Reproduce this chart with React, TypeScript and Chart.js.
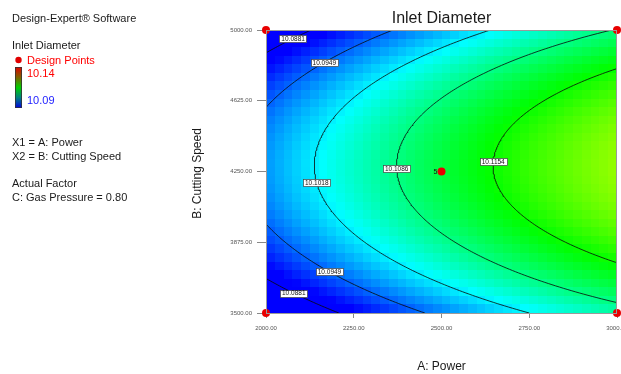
import React, { useEffect, useRef } from 'react';
import { Chart, registerables } from 'chart.js';

Chart.register(...registerables);

// ---- data ----
const powerRange = [2000, 3000];
const speedRange = [3500, 5000];
const powerTicks = [2000, 2250, 2500, 2750, 3000];
const speedTicks = [3500, 3875, 4250, 4625, 5000];
// fitted quadratic model in coded units: [intercept, A, B, AB, A^2, B^2]
const modelCoefficients = [10.1119, 0.01245, 0.0012, 0, -0.0021, -0.0146];
const contourLevels = [10.0881, 10.0949, 10.1018, 10.1086, 10.1154];
const contourLabelSpeeds = [[4955, 3605], [4828, 3718], [4190], [4265], [4302]];
const designPower = [2000, 3000, 2000, 3000, 2500];
const designSpeed = [5000, 5000, 3500, 3500, 4250];
const designCounts = [1, 1, 1, 1, 5];
const colorScaleRange = [10.09, 10.14];

const FONT = "'Liberation Sans', Arial, sans-serif";
const GRID_X = 40;
const GRID_Y = 33;

const codeA = (p: number) => (p - (powerRange[0] + powerRange[1]) / 2) / ((powerRange[1] - powerRange[0]) / 2);
const codeB = (s: number) => (s - (speedRange[0] + speedRange[1]) / 2) / ((speedRange[1] - speedRange[0]) / 2);
const uncodeA = (a: number) => (powerRange[0] + powerRange[1]) / 2 + a * (powerRange[1] - powerRange[0]) / 2;

function response(p: number, s: number) {
  const a = codeA(p), b = codeB(s);
  const c = modelCoefficients;
  return c[0] + c[1] * a + c[2] * b + c[3] * a * b + c[4] * a * a + c[5] * b * b;
}

// solve for power on a contour level at a given speed
function contourPower(level: number, s: number): number | null {
  const b = codeB(s);
  const c = modelCoefficients;
  const A = c[4];
  const B = c[1] + c[3] * b;
  const C = c[0] + c[2] * b + c[5] * b * b - level;
  const D = B * B - 4 * A * C;
  if (D < 0) return null;
  const a = (-B + Math.sqrt(D)) / (2 * A);
  return uncodeA(a);
}

const stops: [number, number[]][] = [
  [0, [0, 0, 255]],
  [0.25, [0, 255, 255]],
  [0.5, [0, 255, 0]],
  [0.75, [255, 255, 0]],
  [1, [255, 0, 0]],
];
function colorFor(v: number) {
  let t = (v - colorScaleRange[0]) / (colorScaleRange[1] - colorScaleRange[0]);
  t = Math.max(0, Math.min(1, t));
  for (let i = 0; i < stops.length - 1; i++) {
    const [t0, c0] = stops[i];
    const [t1, c1] = stops[i + 1];
    if (t <= t1) {
      const f = (t - t0) / (t1 - t0);
      const r = Math.round(c0[0] + (c1[0] - c0[0]) * f);
      const g = Math.round(c0[1] + (c1[1] - c0[1]) * f);
      const bl = Math.round(c0[2] + (c1[2] - c0[2]) * f);
      return `rgb(${r},${g},${bl})`;
    }
  }
  return 'rgb(255,0,0)';
}

const heatmapPlugin = {
  id: 'heatmap',
  beforeDatasetsDraw(chart: any) {
    const { ctx, scales } = chart;
    const xs = scales.x, ys = scales.y;
    ctx.save();
    for (let i = 0; i < GRID_X; i++) {
      for (let j = 0; j < GRID_Y; j++) {
        const p0 = powerRange[0] + ((powerRange[1] - powerRange[0]) * i) / GRID_X;
        const p1 = powerRange[0] + ((powerRange[1] - powerRange[0]) * (i + 1)) / GRID_X;
        const s0 = speedRange[0] + ((speedRange[1] - speedRange[0]) * j) / GRID_Y;
        const s1 = speedRange[0] + ((speedRange[1] - speedRange[0]) * (j + 1)) / GRID_Y;
        ctx.fillStyle = colorFor(response((p0 + p1) / 2, (s0 + s1) / 2));
        const x0 = Math.round(xs.getPixelForValue(p0));
        const x1 = Math.round(xs.getPixelForValue(p1));
        const y0 = Math.round(ys.getPixelForValue(s1));
        const y1 = Math.round(ys.getPixelForValue(s0));
        ctx.fillRect(x0, y0, x1 - x0, y1 - y0);
      }
    }
    ctx.restore();
  },
};

const overlayPlugin = {
  id: 'overlay',
  afterDatasetsDraw(chart: any) {
    const { ctx, scales, chartArea } = chart;
    const xs = scales.x, ys = scales.y;
    ctx.save();
    // frame
    ctx.strokeStyle = '#9a9a9a';
    ctx.lineWidth = 1;
    ctx.strokeRect(chartArea.left + 0.5, chartArea.top + 0.5, chartArea.right - chartArea.left - 1, chartArea.bottom - chartArea.top);
    // contour labels
    ctx.font = `6.5px ${FONT}`;
    ctx.textAlign = 'center';
    ctx.textBaseline = 'middle';
    contourLevels.forEach((lvl, k) => {
      contourLabelSpeeds[k].forEach((s) => {
        const p = contourPower(lvl, s);
        if (p == null) return;
        const x = xs.getPixelForValue(p);
        const y = ys.getPixelForValue(s);
        const txt = lvl.toFixed(4);
        const w = ctx.measureText(txt).width + 4;
        const h = 7;
        ctx.fillStyle = '#ffffff';
        ctx.fillRect(Math.round(x - w / 2) + 0.5, Math.round(y - h / 2) + 0.5, Math.round(w), h);
        ctx.strokeStyle = '#444';
        ctx.lineWidth = 0.7;
        ctx.strokeRect(Math.round(x - w / 2) + 0.5, Math.round(y - h / 2) + 0.5, Math.round(w), h);
        ctx.fillStyle = '#111';
        ctx.fillText(txt, x, y + 0.5);
      });
    });
    // replicate count labels
    ctx.font = `7px ${FONT}`;
    ctx.textAlign = 'right';
    ctx.fillStyle = '#111';
    designPower.forEach((p, i) => {
      if (designCounts[i] > 1) {
        ctx.fillText(String(designCounts[i]), xs.getPixelForValue(p) - 4, ys.getPixelForValue(designSpeed[i]) + 0.5);
      }
    });
    ctx.restore();
  },
  afterDraw(chart: any) {
    const { ctx, chartArea } = chart;
    ctx.save();
    const cx = (chartArea.left + chartArea.right) / 2;
    // title
    ctx.fillStyle = '#1a1a1a';
    ctx.textAlign = 'center';
    ctx.textBaseline = 'middle';
    ctx.font = `16px ${FONT}`;
    ctx.fillText('Inlet Diameter', cx, 19);
    // axis titles
    ctx.font = `12px ${FONT}`;
    ctx.fillText('A: Power', cx, 367);
    ctx.save();
    ctx.translate(198, (chartArea.top + chartArea.bottom) / 2 + 2);
    ctx.rotate(-Math.PI / 2);
    ctx.fillText('B: Cutting Speed', 0, 0);
    ctx.restore();
    // left panel
    ctx.textAlign = 'left';
    ctx.font = `11px ${FONT}`;
    ctx.fillStyle = '#1a1a1a';
    ctx.fillText('Design-Expert® Software', 12, 18.5);
    ctx.fillText('Inlet Diameter', 12, 46);
    ctx.fillText('X1 = A: Power', 12, 143);
    ctx.fillText('X2 = B: Cutting Speed', 12, 156.5);
    ctx.fillText('Actual Factor', 12, 184);
    ctx.fillText('C: Gas Pressure = 0.80', 12, 197.5);
    ctx.fillStyle = '#ff0000';
    ctx.fillText('Design Points', 27, 60.5);
    ctx.fillText(colorScaleRange[1].toFixed(2), 27, 73.5);
    ctx.fillStyle = '#2222ff';
    ctx.fillText(colorScaleRange[0].toFixed(2), 27, 101);
    // legend dot
    ctx.fillStyle = '#e00000';
    ctx.beginPath();
    ctx.arc(18.5, 60, 3.2, 0, Math.PI * 2);
    ctx.fill();
    // color bar
    const g = ctx.createLinearGradient(0, 67, 0, 108);
    g.addColorStop(0, '#e00000');
    g.addColorStop(0.25, '#806000');
    g.addColorStop(0.5, '#00d000');
    g.addColorStop(0.75, '#008080');
    g.addColorStop(1, '#0000e0');
    ctx.fillStyle = g;
    ctx.fillRect(15, 67, 7, 41);
    ctx.strokeStyle = '#333';
    ctx.lineWidth = 0.8;
    ctx.strokeRect(15.5, 67.5, 6, 40);
    ctx.restore();
  },
};

function buildContourData(level: number) {
  const pts: { x: number; y: number }[] = [];
  const n = 240;
  for (let i = 0; i <= n; i++) {
    const s = speedRange[0] + ((speedRange[1] - speedRange[0]) * i) / n;
    const p = contourPower(level, s);
    if (p != null) pts.push({ x: p, y: s });
  }
  return pts;
}

export default function App() {
  const canvasRef = useRef<HTMLCanvasElement | null>(null);

  useEffect(() => {
    if (!canvasRef.current) return;
    const designData = designPower.map((p, i) => ({ x: p, y: designSpeed[i] }));
    const contourSets = contourLevels.map((lvl) => ({
      label: lvl.toFixed(4),
      data: buildContourData(lvl),
      showLine: true,
      borderColor: 'rgba(10,10,10,0.8)',
      borderWidth: 1,
      pointRadius: 0,
      fill: false,
      tension: 0,
    }));
    const chart = new Chart(canvasRef.current, {
      type: 'scatter',
      data: {
        datasets: [
          {
            label: 'Design Points',
            data: designData,
            pointRadius: 4,
            pointBackgroundColor: '#e80000',
            pointBorderWidth: 0,
            clip: false,
          } as any,
          ...contourSets,
        ],
      },
      options: {
        animation: false,
        responsive: false,
        devicePixelRatio: 1,
        events: [],
        layout: { padding: { left: 0, right: 3, top: 30, bottom: 0 } },
        plugins: {
          legend: { display: false },
          tooltip: { enabled: false },
          title: { display: false },
        },
        scales: {
          x: {
            type: 'linear',
            min: powerRange[0],
            max: powerRange[1],
            afterFit(scale: any) {
              scale.height = 61;
              scale.paddingLeft = 0;
              scale.paddingRight = 0;
            },
            afterBuildTicks(scale: any) {
              scale.ticks = powerTicks.map((v) => ({ value: v }));
            },
            ticks: {
              autoSkip: false,
              maxRotation: 0,
              minRotation: 0,
              padding: 7,
              color: '#555',
              font: { family: FONT, size: 6 },
              callback: (v: any) => Number(v).toFixed(2),
            },
            grid: { drawOnChartArea: false, drawTicks: true, tickLength: 5, color: '#888' },
            border: { display: true, color: '#999' },
          },
          y: {
            type: 'linear',
            min: speedRange[0],
            max: speedRange[1],
            afterFit(scale: any) {
              scale.width = 266;
              scale.paddingTop = 0;
              scale.paddingBottom = 0;
            },
            afterBuildTicks(scale: any) {
              scale.ticks = speedTicks.map((v) => ({ value: v }));
            },
            ticks: {
              autoSkip: false,
              padding: 5,
              color: '#555',
              font: { family: FONT, size: 6 },
              callback: (v: any) => Number(v).toFixed(2),
            },
            grid: { drawOnChartArea: false, drawTicks: true, tickLength: 9, color: '#888' },
            border: { display: true, color: '#999' },
          },
        },
      } as any,
      plugins: [heatmapPlugin, overlayPlugin],
    });
    return () => chart.destroy();
  }, []);

  return (
    <div style={{ position: 'absolute', left: 0, top: 0, width: 621, height: 374, background: '#fff' }}>
      <canvas ref={canvasRef} width={621} height={374} style={{ display: 'block' }} />
    </div>
  );
}
